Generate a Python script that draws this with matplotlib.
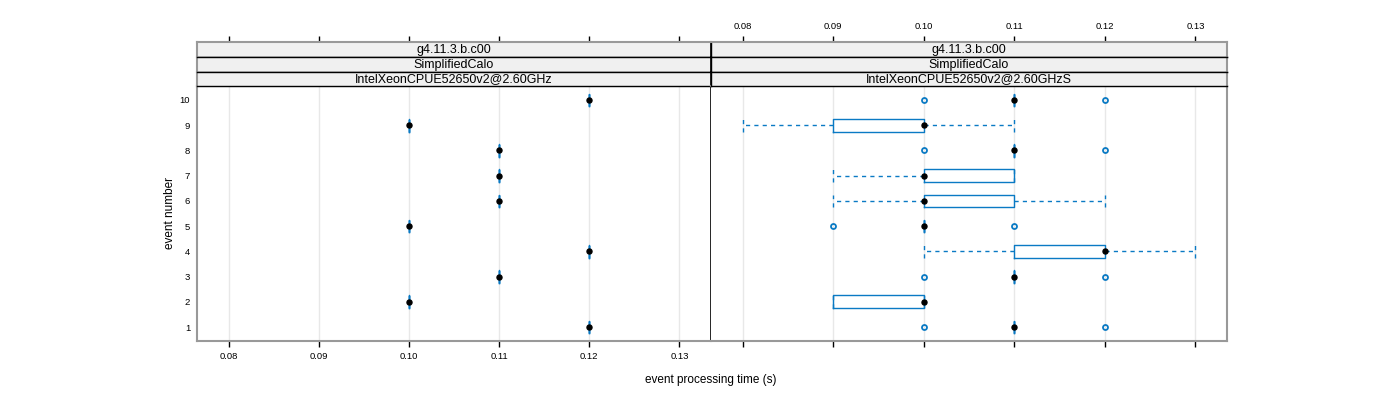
import matplotlib
matplotlib.use("Agg")
import matplotlib.pyplot as plt

plt.rcParams['font.family'] = ['Liberation Sans', 'DejaVu Sans']

# ---- data ----
events = [1, 2, 3, 4, 5, 6, 7, 8, 9, 10]
xticks = [0.08, 0.09, 0.10, 0.11, 0.12, 0.13]
xtick_labels = ["0.08", "0.09", "0.10", "0.11", "0.12", "0.13"]

strip_version = "g4.11.3.b.c00"
strip_test = "SimplifiedCalo"
strip_hosts = ["IntelXeonCPUE52650v2@2.60GHz", "IntelXeonCPUE52650v2@2.60GHzS"]

# left panel: single observation per event
left_values = [0.12, 0.10, 0.11, 0.12, 0.10, 0.11, 0.11, 0.11, 0.10, 0.12]

# right panel box statistics per event
right_whislo = [0.11, 0.09, 0.11, 0.10, 0.10, 0.09, 0.09, 0.11, 0.08, 0.11]
right_q1     = [0.11, 0.09, 0.11, 0.11, 0.10, 0.10, 0.10, 0.11, 0.09, 0.11]
right_med    = [0.11, 0.10, 0.11, 0.12, 0.10, 0.10, 0.10, 0.11, 0.10, 0.11]
right_q3     = [0.11, 0.10, 0.11, 0.12, 0.10, 0.11, 0.11, 0.11, 0.10, 0.11]
right_whishi = [0.11, 0.10, 0.11, 0.13, 0.10, 0.12, 0.11, 0.11, 0.11, 0.11]
right_fliers = [[0.10, 0.12], [], [0.10, 0.12], [], [0.09, 0.11],
                [], [], [0.10, 0.12], [], [0.10, 0.12]]

xlabel = "event processing time (s)"
ylabel = "event number"

# ---- style ----
BLUE = "#0a7ac4"
GRID = "#e8e8e8"
FRAME = "#999999"
STRIP_BG = "#f0f0f0"
XLIM = (0.0765, 0.1335)
YLIM = (0.445, 10.555)
TICK_FS = 6.8

W, H = 1400, 400
fig = plt.figure(figsize=(14, 4), dpi=100)

def fx(px):
    return px / W

def fy(py):
    return 1 - py / H

panels_px = [(197, 711), (711, 1227)]
data_top, data_bot = 86, 341
strip_edges = [42.3, 57, 71.7, 86]


def stats_from(lo, q1, med, q3, hi, fl):
    return [dict(whislo=a, q1=b, med=c, q3=d, whishi=e, fliers=f)
            for a, b, c, d, e, f in zip(lo, q1, med, q3, hi, fl)]


left_stats = stats_from(left_values, left_values, left_values, left_values,
                        left_values, [[] for _ in left_values])
right_stats = stats_from(right_whislo, right_q1, right_med, right_q3,
                         right_whishi, right_fliers)

for i, ((x0, x1), stats, meds) in enumerate(zip(panels_px,
                                               [left_stats, right_stats],
                                               [left_values, right_med])):
    ax = fig.add_axes([fx(x0), fy(data_bot), fx(x1 - x0), (data_bot - data_top) / H])
    ax.set_xlim(*XLIM)
    ax.set_ylim(*YLIM)
    for xt in xticks:
        ax.axvline(xt, color=GRID, lw=1, zorder=0)
    ax.bxp(stats, positions=events, vert=False, widths=0.5, capwidths=0.5,
           showfliers=True,
           boxprops=dict(color=BLUE, lw=1),
           whiskerprops=dict(color=BLUE, lw=1, linestyle=(0, (3, 3))),
           capprops=dict(color=BLUE, lw=1, linestyle=(0, (3, 3))),
           medianprops=dict(lw=0),
           flierprops=dict(marker='o', markerfacecolor='none',
                           markeredgecolor=BLUE, markersize=3.6,
                           markeredgewidth=1.3, linestyle='none'),
           manage_ticks=False, zorder=2)
    ax.plot(meds, events, 'o', color='black', markersize=3.6, zorder=3)
    ax.set_xticks(xticks)
    ax.set_yticks(events)
    for s in ax.spines.values():
        s.set_color(FRAME)
        s.set_linewidth(1.5)
    if i == 0:
        ax.spines['right'].set_color('black')
        ax.spines['right'].set_linewidth(1.2)
        ax.set_xticklabels(xtick_labels, fontsize=TICK_FS)
        ax.set_yticklabels([str(e) for e in events], fontsize=TICK_FS)
        ax.tick_params(axis='y', length=0, pad=5)
        ax.tick_params(axis='x', length=4, width=1, direction='out', pad=4,
                       colors='black')
    else:
        ax.spines['left'].set_visible(False)
        ax.set_xticklabels([])
        ax.set_yticklabels([])
        ax.tick_params(axis='y', length=0)
        ax.tick_params(axis='x', length=4, width=1, direction='out')

    labels = [strip_version, strip_test, strip_hosts[i]]
    for k in range(3):
        ya, yb = strip_edges[k], strip_edges[k + 1]
        sax = fig.add_axes([fx(x0), fy(yb), fx(x1 - x0), (yb - ya) / H])
        sax.set_facecolor(STRIP_BG)
        sax.set_xlim(*XLIM)
        sax.set_yticks([])
        sax.text(0.5, 0.45, labels[k], transform=sax.transAxes,
                 ha='center', va='center', fontsize=9)
        for s in sax.spines.values():
            s.set_color('black')
            s.set_linewidth(1.0)
        sax.spines['left'].set_color(FRAME if i == 0 else 'black')
        sax.spines['right'].set_color('black' if i == 0 else FRAME)
        if i == 0:
            sax.spines['right'].set_linewidth(1.2)
            sax.spines['left'].set_linewidth(1.5)
        else:
            sax.spines['right'].set_linewidth(1.5)
        if k == 0:
            sax.spines['top'].set_color(FRAME)
            sax.spines['top'].set_linewidth(1.5)
            sax.xaxis.tick_top()
            sax.set_xticks(xticks)
            if i == 1:
                sax.set_xticklabels(xtick_labels, fontsize=TICK_FS)
            else:
                sax.set_xticklabels([])
            sax.tick_params(axis='x', length=4, width=1, direction='out', pad=4)
        else:
            sax.set_xticks([])

fig.text(fx(711), fy(380), xlabel, ha='center', va='center', fontsize=8.5)
fig.text(fx(170), fy(213), ylabel, ha='center', va='center', rotation=90, fontsize=8.5)

fig.savefig("out.png", dpi=100)
